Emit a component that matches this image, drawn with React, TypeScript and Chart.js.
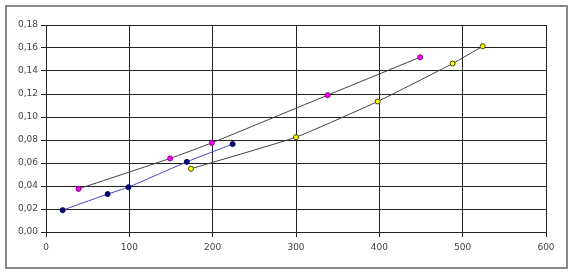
import React, { useEffect, useRef } from "react";
import { Chart, registerables } from "chart.js";

Chart.register(...registerables);

const navyX = [20, 74, 99, 169, 224];
const navyY = [0.019, 0.033, 0.039, 0.061, 0.0765];
const magentaX = [39, 149, 199, 338, 449];
const magentaY = [0.0375, 0.064, 0.0775, 0.119, 0.152];
const yellowX = [174, 300, 398, 488, 524];
const yellowY = [0.055, 0.0825, 0.1135, 0.1465, 0.1615];
const xTicks = [0, 100, 200, 300, 400, 500, 600];
const yTicks = [0, 0.02, 0.04, 0.06, 0.08, 0.1, 0.12, 0.14, 0.16, 0.18];

const pts = (xs: number[], ys: number[]) => xs.map((x, i) => ({ x, y: ys[i] }));

export default function App() {
  const ref = useRef<HTMLCanvasElement>(null);
  useEffect(() => {
    document.body.style.margin = "0";
    const chart = new Chart(ref.current!, {
      type: "scatter",
      data: {
        datasets: [
          {
            data: pts(navyX, navyY),
            showLine: true,
            tension: 0.15,
            borderColor: "#4040c0",
            borderWidth: 1,
            pointBackgroundColor: "#000080",
            pointBorderColor: "#000050",
            pointBorderWidth: 1,
            pointRadius: 2.5,
          },
          {
            data: pts(magentaX, magentaY),
            showLine: true,
            tension: 0.15,
            borderColor: "#404040",
            borderWidth: 1,
            pointBackgroundColor: "#ff00ff",
            pointBorderColor: "#800080",
            pointBorderWidth: 1,
            pointRadius: 2.5,
          },
          {
            data: pts(yellowX, yellowY),
            showLine: true,
            tension: 0.15,
            borderColor: "#404040",
            borderWidth: 1,
            pointBackgroundColor: "#ffff00",
            pointBorderColor: "#404000",
            pointBorderWidth: 1,
            pointRadius: 2.5,
          },
        ],
      },
      options: {
        animation: false,
        responsive: false,
        maintainAspectRatio: false,
        layout: { padding: { left: 0, top: 25, right: 27, bottom: 0 } },
        plugins: { legend: { display: false }, tooltip: { enabled: false } },
        scales: {
          x: {
            type: "linear",
            min: 0,
            max: 600,
            afterBuildTicks: (s: any) => {
              s.ticks = xTicks.map((v) => ({ value: v }));
            },
            afterFit: (s: any) => {
              s.height = 43;
            },
            grid: { color: "#222", lineWidth: 1, tickLength: 5, drawTicks: true },
            border: { color: "#222", width: 1 },
            ticks: {
              color: "#444",
              padding: 5,
              font: { family: "DejaVu Sans", size: 9 },
              callback: (v: any) => String(v),
            },
          },
          y: {
            type: "linear",
            min: 0,
            max: 0.18,
            afterBuildTicks: (s: any) => {
              s.ticks = yTicks.map((v) => ({ value: v }));
            },
            afterFit: (s: any) => {
              s.width = 46;
            },
            grid: { color: "#222", lineWidth: 1, tickLength: 5, drawTicks: true },
            border: { color: "#222", width: 1 },
            ticks: {
              color: "#444",
              padding: 3,
              font: { family: "DejaVu Sans", size: 9 },
              callback: (v: any) => Number(v).toFixed(2).replace(".", ","),
            },
          },
        },
      },
    });
    return () => chart.destroy();
  }, []);
  return (
    <div style={{ position: "relative", width: 573, height: 275, background: "#fff" }}>
      <div
        style={{
          position: "absolute",
          left: 5,
          top: 5,
          width: 563,
          height: 264,
          border: "2px solid #888",
          boxSizing: "border-box",
          pointerEvents: "none",
        }}
      />
      <canvas ref={ref} width={573} height={275} style={{ position: "absolute", left: 0, top: 0 }} />
    </div>
  );
}
